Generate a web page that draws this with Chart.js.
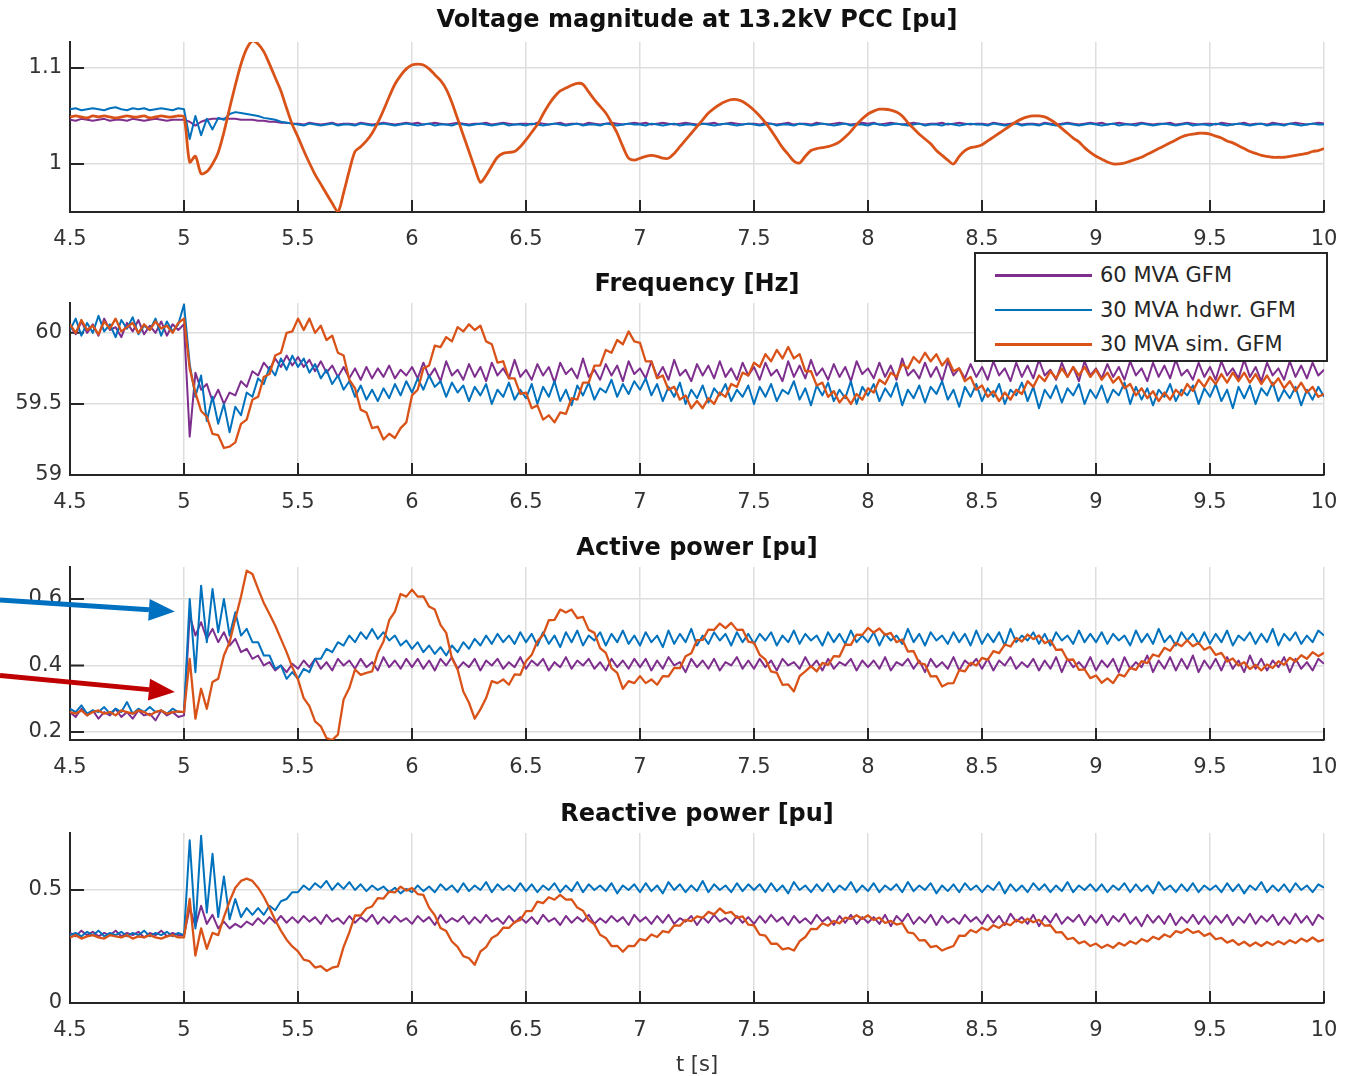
<!DOCTYPE html>
<html lang="en">
<head>
<meta charset="UTF-8">
<title>GFM test: voltage, frequency, active and reactive power</title>
<script src="https://cdn.jsdelivr.net/npm/chart.js"></script>
<style>
    body { margin: 0; background: #ffffff; }
    #wrap { position: relative; width: 1350px; height: 1076px; font-family: 'DejaVu Sans', sans-serif; }
    #wrap canvas { position: absolute; left: 0; }
    #legend {
        position: absolute; left: 974px; top: 252px; width: 354px; height: 110px;
        box-sizing: border-box; border: 2px solid #262626; background: #fff; padding-top: 4px; z-index: 5;
    }
    #legend .row { height: 34.5px; display: flex; align-items: center; }
    #legend .sw { width: 97px; height: 2.5px; margin-left: 19px; margin-right: 8px; }
    #legend .lbl { font-size: 21px; color: #262626; }
</style>
</head>
<body>
<div id="wrap">
    <canvas id="cVolt" width="1350" height="262" style="top:0px"></canvas>
    <canvas id="cFreq" width="1350" height="262" style="top:262px"></canvas>
    <canvas id="cP" width="1350" height="266" style="top:524px"></canvas>
    <canvas id="cQ" width="1350" height="286" style="top:790px"></canvas>
    <div id="legend"></div>
</div>

<script>
// sampling grid of the traces: t = 4.5 s ... 10 s every 25 ms
const T_START = 4.5;
const T_STEP = 0.025;

const seriesNames = ['60 MVA GFM', '30 MVA hdwr. GFM', '30 MVA sim. GFM'];
const xTicks = [4.5, 5, 5.5, 6, 6.5, 7, 7.5, 8, 8.5, 9, 9.5, 10];

// ---- Voltage magnitude at 13.2kV PCC [pu]
const voltTicks = [1, 1.1];
const voltPurple = [
    1.046,1.045,1.047,1.046,1.045,1.046,1.047,1.045,1.046,1.046,1.045,1.047,1.046,1.045,1.046,1.047,1.046,1.045,1.046,1.046,
    1.046,1.044,1.040,1.044,1.046,1.047,1.047,1.047,1.047,1.047,1.046,1.046,1.046,1.045,1.045,1.044,1.044,1.043,1.043,1.042,
    1.042,1.041,1.043,1.042,1.041,1.042,1.043,1.041,1.042,1.042,1.041,1.043,1.042,1.041,1.042,1.043,1.042,1.041,1.042,1.043,
    1.042,1.043,1.041,1.042,1.043,1.042,1.041,1.042,1.043,1.042,1.041,1.042,1.042,1.043,1.041,1.042,1.043,1.042,1.041,1.042,
    1.042,1.041,1.043,1.042,1.041,1.042,1.043,1.041,1.042,1.042,1.041,1.043,1.042,1.041,1.042,1.043,1.042,1.041,1.042,1.043,
    1.042,1.043,1.041,1.042,1.043,1.042,1.041,1.042,1.043,1.042,1.041,1.042,1.042,1.043,1.041,1.042,1.043,1.042,1.041,1.042,
    1.042,1.041,1.043,1.042,1.041,1.042,1.043,1.041,1.042,1.042,1.041,1.043,1.042,1.041,1.042,1.043,1.042,1.041,1.042,1.043,
    1.042,1.043,1.041,1.042,1.043,1.042,1.041,1.042,1.043,1.042,1.041,1.042,1.042,1.043,1.041,1.042,1.043,1.042,1.041,1.042,
    1.042,1.041,1.043,1.042,1.041,1.042,1.043,1.041,1.042,1.042,1.041,1.043,1.042,1.041,1.042,1.043,1.042,1.041,1.042,1.043,
    1.042,1.043,1.041,1.042,1.043,1.042,1.041,1.042,1.043,1.042,1.041,1.042,1.042,1.043,1.041,1.042,1.043,1.042,1.041,1.042,
    1.042,1.041,1.043,1.042,1.041,1.042,1.043,1.041,1.042,1.042,1.041,1.043,1.042,1.041,1.042,1.043,1.042,1.041,1.042,1.043,
    1.042
];
const voltBlue = [
    1.057,1.058,1.056,1.057,1.058,1.057,1.056,1.058,1.059,1.057,1.056,1.058,1.057,1.058,1.056,1.057,1.058,1.057,1.056,1.058,
    1.057,1.026,1.050,1.030,1.047,1.036,1.048,1.046,1.052,1.054,1.053,1.052,1.051,1.050,1.048,1.047,1.046,1.044,1.043,1.042,
    1.041,1.040,1.042,1.041,1.040,1.041,1.042,1.040,1.041,1.041,1.040,1.042,1.041,1.040,1.041,1.042,1.041,1.040,1.041,1.042,
    1.041,1.040,1.041,1.042,1.040,1.041,1.041,1.040,1.042,1.041,1.040,1.041,1.042,1.041,1.040,1.041,1.042,1.040,1.041,1.041,
    1.040,1.042,1.041,1.040,1.041,1.042,1.041,1.040,1.041,1.042,1.040,1.041,1.041,1.040,1.042,1.041,1.040,1.041,1.042,1.041,
    1.041,1.040,1.042,1.041,1.040,1.041,1.042,1.040,1.041,1.041,1.040,1.042,1.041,1.040,1.041,1.042,1.041,1.040,1.041,1.042,
    1.041,1.040,1.041,1.042,1.040,1.041,1.041,1.040,1.042,1.041,1.040,1.041,1.042,1.041,1.040,1.041,1.042,1.040,1.041,1.041,
    1.040,1.042,1.041,1.040,1.041,1.042,1.041,1.040,1.041,1.042,1.040,1.041,1.041,1.040,1.042,1.041,1.040,1.041,1.042,1.041,
    1.041,1.040,1.042,1.041,1.040,1.041,1.042,1.040,1.041,1.041,1.040,1.042,1.041,1.040,1.041,1.042,1.041,1.040,1.041,1.042,
    1.041,1.040,1.041,1.042,1.040,1.041,1.041,1.040,1.042,1.041,1.040,1.041,1.042,1.041,1.040,1.041,1.042,1.040,1.041,1.041,
    1.040,1.042,1.041,1.040,1.041,1.042,1.041,1.040,1.041,1.042,1.040,1.041,1.041,1.040,1.042,1.041,1.040,1.041,1.042,1.041,
    1.041
];
const voltOrange = [
    1.049,1.050,1.049,1.048,1.050,1.049,1.050,1.049,1.048,1.049,1.050,1.049,1.049,1.050,1.048,1.049,1.050,1.049,1.049,1.050,
    1.049,1.002,1.008,0.990,0.992,1.000,1.012,1.033,1.058,1.082,1.104,1.120,1.128,1.125,1.117,1.104,1.090,1.076,1.058,1.041,
    1.028,1.014,1.001,0.989,0.979,0.969,0.959,0.950,0.970,0.993,1.013,1.018,1.024,1.032,1.043,1.056,1.070,1.083,1.092,1.099,
    1.103,1.104,1.103,1.099,1.093,1.087,1.078,1.064,1.047,1.030,1.013,0.996,0.981,0.988,0.998,1.007,1.011,1.012,1.013,1.018,
    1.025,1.033,1.041,1.052,1.062,1.070,1.076,1.079,1.082,1.084,1.083,1.075,1.067,1.060,1.053,1.043,1.032,1.018,1.006,1.004,
    1.006,1.008,1.009,1.008,1.006,1.006,1.011,1.018,1.025,1.032,1.039,1.046,1.053,1.058,1.062,1.065,1.067,1.067,1.065,1.061,
    1.056,1.050,1.043,1.035,1.026,1.017,1.010,1.003,1.001,1.008,1.014,1.016,1.017,1.018,1.020,1.023,1.028,1.034,1.041,1.047,
    1.052,1.055,1.057,1.057,1.056,1.054,1.050,1.043,1.037,1.031,1.026,1.021,1.014,1.009,1.004,1.000,1.008,1.014,1.017,1.018,
    1.020,1.024,1.028,1.032,1.036,1.040,1.044,1.047,1.049,1.050,1.050,1.049,1.046,1.042,1.037,1.032,1.027,1.023,1.017,1.012,
    1.008,1.005,1.002,1.000,1.000,1.001,1.003,1.005,1.007,1.010,1.013,1.016,1.019,1.022,1.025,1.028,1.030,1.031,1.032,1.032,
    1.031,1.029,1.027,1.024,1.022,1.019,1.016,1.013,1.011,1.009,1.008,1.007,1.007,1.007,1.008,1.009,1.010,1.011,1.013,1.014,
    1.016
];

// ---- Frequency [Hz]
const freqTicks = [59, 59.5, 60];
const freqPurple = [
    60.05,59.99,60.08,60.00,60.06,59.98,60.10,60.02,60.04,59.97,60.07,60.01,60.09,59.99,60.05,60.00,60.08,59.98,60.06,60.02,
    60.06,59.27,59.72,59.60,59.64,59.52,59.60,59.50,59.58,59.56,59.66,59.62,59.73,59.70,59.79,59.74,59.82,59.76,59.84,59.77,
    59.83,59.76,59.81,59.73,59.80,59.72,59.77,59.69,59.76,59.68,59.75,59.67,59.76,59.68,59.75,59.69,59.77,59.68,59.74,59.70,
    59.76,59.68,59.79,59.69,59.75,59.66,59.80,59.70,59.74,59.67,59.78,59.69,59.76,59.66,59.79,59.70,59.75,59.68,59.81,59.69,
    59.74,59.67,59.78,59.70,59.76,59.65,59.79,59.71,59.75,59.68,59.82,59.69,59.74,59.67,59.78,59.70,59.77,59.66,59.80,59.71,
    59.75,59.68,59.80,59.69,59.76,59.67,59.81,59.70,59.74,59.66,59.78,59.70,59.77,59.68,59.80,59.69,59.75,59.67,59.79,59.70,
    59.76,59.67,59.79,59.70,59.74,59.66,59.80,59.69,59.77,59.68,59.81,59.70,59.75,59.67,59.78,59.69,59.76,59.66,59.80,59.71,
    59.75,59.68,59.79,59.69,59.77,59.67,59.82,59.70,59.74,59.68,59.79,59.69,59.76,59.66,59.80,59.70,59.75,59.68,59.78,59.69,
    59.76,59.67,59.80,59.70,59.75,59.66,59.79,59.69,59.77,59.68,59.81,59.70,59.74,59.67,59.79,59.69,59.76,59.66,59.80,59.70,
    59.75,59.68,59.78,59.69,59.76,59.67,59.80,59.70,59.75,59.66,59.79,59.69,59.77,59.68,59.81,59.70,59.74,59.67,59.79,59.69,
    59.76,59.67,59.80,59.70,59.75,59.68,59.81,59.69,59.76,59.66,59.79,59.70,59.75,59.67,59.80,59.69,59.77,59.68,59.79,59.70,
    59.74
];
const freqBlue = [
    60.02,60.10,59.98,60.07,60.00,60.12,60.01,60.06,59.97,60.09,60.03,60.11,59.99,60.05,60.02,60.10,59.98,60.08,60.01,60.06,
    60.20,59.78,59.55,59.70,59.38,59.55,59.36,59.50,59.30,59.48,59.42,59.58,59.55,59.68,59.64,59.76,59.70,59.82,59.74,59.84,
    59.76,59.82,59.72,59.78,59.68,59.74,59.64,59.70,59.60,59.66,59.55,59.63,59.53,59.60,59.52,59.61,59.54,59.64,59.56,59.66,
    59.58,59.68,59.60,59.70,59.62,59.66,59.55,59.65,59.58,59.63,59.52,59.62,59.56,59.64,59.50,59.60,59.55,59.65,59.53,59.60,
    59.54,59.64,59.50,59.62,59.55,59.66,59.52,59.60,59.49,59.63,59.56,59.65,59.53,59.61,59.58,59.67,59.55,59.64,59.57,59.66,
    59.60,59.68,59.56,59.64,59.52,59.62,59.55,59.65,59.50,59.60,59.54,59.63,59.51,59.61,59.56,59.64,59.52,59.60,59.55,59.63,
    59.50,59.62,59.55,59.64,59.52,59.60,59.57,59.66,59.53,59.61,59.49,59.63,59.56,59.65,59.52,59.60,59.54,59.66,59.50,59.62,
    59.56,59.64,59.52,59.61,59.55,59.65,59.49,59.60,59.54,59.63,59.51,59.62,59.57,59.66,59.53,59.60,59.48,59.62,59.55,59.64,
    59.52,59.61,59.55,59.64,59.50,59.60,59.56,59.65,59.52,59.62,59.47,59.60,59.54,59.63,59.51,59.61,59.56,59.64,59.50,59.60,
    59.54,59.63,59.51,59.60,59.56,59.65,59.50,59.62,59.53,59.61,59.49,59.60,59.55,59.64,59.52,59.60,59.56,59.63,59.50,59.61,
    59.55,59.64,59.52,59.60,59.47,59.62,59.54,59.63,59.50,59.61,59.56,59.65,59.52,59.60,59.54,59.62,59.49,59.60,59.53,59.62,
    59.55
];
const freqOrange = [
    60.06,60.00,60.09,60.02,60.05,59.99,60.08,60.03,60.10,60.01,60.04,60.07,60.00,60.06,60.02,60.08,60.03,60.05,60.00,60.07,
    60.10,59.75,59.58,59.45,59.41,59.29,59.28,59.19,59.20,59.23,59.36,59.39,59.53,59.55,59.69,59.71,59.84,59.86,60.00,60.01,
    60.10,60.02,60.10,60.00,60.05,59.95,59.98,59.86,59.84,59.67,59.61,59.46,59.44,59.33,59.34,59.25,59.29,59.26,59.33,59.37,
    59.56,59.60,59.75,59.77,59.91,59.90,59.97,59.94,60.04,60.01,60.06,60.02,60.05,59.94,59.92,59.79,59.80,59.68,59.68,59.57,
    59.58,59.47,59.49,59.39,59.42,59.37,59.44,59.43,59.54,59.53,59.65,59.65,59.77,59.77,59.88,59.86,59.95,59.92,60.01,59.94,
    59.93,59.80,59.80,59.68,59.70,59.60,59.62,59.53,59.56,59.47,59.52,59.47,59.54,59.50,59.58,59.55,59.64,59.62,59.72,59.70,
    59.79,59.76,59.85,59.80,59.88,59.82,59.90,59.82,59.85,59.73,59.73,59.63,59.65,59.55,59.59,59.51,59.56,59.50,59.57,59.53,
    59.61,59.58,59.67,59.64,59.72,59.69,59.78,59.75,59.83,59.79,59.86,59.80,59.85,59.77,59.82,59.73,59.75,59.66,59.69,59.60,
    59.63,59.55,59.59,59.52,59.58,59.53,59.60,59.57,59.66,59.62,59.70,59.66,59.73,59.68,59.75,59.69,59.76,59.70,59.76,59.69,
    59.74,59.67,59.72,59.65,59.69,59.61,59.64,59.56,59.61,59.54,59.59,59.52,59.58,59.53,59.60,59.56,59.64,59.59,59.67,59.62,
    59.69,59.64,59.71,59.65,59.72,59.66,59.72,59.65,59.71,59.64,59.70,59.63,59.68,59.61,59.66,59.59,59.65,59.58,59.62,59.55,
    59.57
];

// ---- Active power [pu]
const pTicks = [0.2, 0.4, 0.6];
const pPurple = [
    0.26,0.245,0.27,0.25,0.265,0.24,0.26,0.25,0.27,0.245,0.26,0.24,0.265,0.25,0.255,0.235,0.265,0.25,0.26,0.245,
    0.25,0.55,0.49,0.53,0.48,0.51,0.47,0.5,0.46,0.48,0.44,0.45,0.42,0.43,0.4,0.41,0.385,0.4,0.38,0.405,
    0.39,0.415,0.395,0.42,0.39,0.41,0.385,0.42,0.4,0.415,0.39,0.42,0.395,0.41,0.385,0.425,0.395,0.415,0.39,0.42,
    0.395,0.42,0.39,0.415,0.385,0.42,0.4,0.425,0.39,0.41,0.395,0.42,0.385,0.415,0.4,0.42,0.39,0.41,0.395,0.425,
    0.39,0.415,0.4,0.42,0.385,0.41,0.395,0.425,0.39,0.415,0.4,0.42,0.39,0.41,0.385,0.42,0.395,0.415,0.39,0.42,
    0.395,0.42,0.385,0.415,0.39,0.425,0.4,0.41,0.38,0.42,0.395,0.415,0.39,0.42,0.385,0.41,0.4,0.425,0.39,0.415,
    0.39,0.42,0.395,0.415,0.385,0.42,0.4,0.41,0.39,0.425,0.395,0.415,0.385,0.42,0.39,0.41,0.4,0.42,0.385,0.415,
    0.395,0.415,0.39,0.425,0.385,0.41,0.4,0.42,0.39,0.415,0.38,0.42,0.395,0.41,0.39,0.425,0.385,0.415,0.4,0.42,
    0.39,0.42,0.385,0.415,0.4,0.425,0.39,0.41,0.395,0.42,0.385,0.415,0.39,0.425,0.38,0.42,0.395,0.41,0.39,0.425,
    0.385,0.415,0.395,0.42,0.38,0.425,0.39,0.41,0.395,0.43,0.38,0.415,0.39,0.425,0.385,0.42,0.39,0.43,0.38,0.415,
    0.39,0.42,0.385,0.425,0.39,0.415,0.38,0.43,0.39,0.42,0.385,0.415,0.395,0.425,0.38,0.42,0.39,0.41,0.385,0.42,
    0.405
];
const pBlue = [
    0.27,0.26,0.28,0.255,0.265,0.26,0.275,0.255,0.27,0.26,0.29,0.255,0.27,0.26,0.275,0.26,0.265,0.255,0.27,0.26,
    0.26,0.6,0.38,0.64,0.47,0.63,0.5,0.6,0.49,0.56,0.49,0.51,0.47,0.47,0.43,0.43,0.39,0.4,0.36,0.38,
    0.36,0.39,0.38,0.42,0.42,0.45,0.44,0.47,0.46,0.49,0.47,0.5,0.48,0.51,0.48,0.5,0.475,0.49,0.46,0.475,
    0.45,0.47,0.44,0.46,0.435,0.455,0.43,0.46,0.44,0.47,0.45,0.48,0.46,0.49,0.465,0.495,0.47,0.49,0.465,0.5,
    0.47,0.495,0.46,0.5,0.465,0.49,0.455,0.5,0.47,0.505,0.46,0.49,0.475,0.5,0.46,0.495,0.47,0.505,0.465,0.49,
    0.46,0.5,0.47,0.49,0.455,0.505,0.465,0.495,0.47,0.51,0.46,0.49,0.465,0.5,0.475,0.495,0.46,0.5,0.47,0.495,
    0.465,0.495,0.475,0.5,0.46,0.49,0.47,0.505,0.465,0.495,0.475,0.49,0.46,0.5,0.47,0.495,0.465,0.505,0.47,0.49,
    0.47,0.5,0.46,0.495,0.475,0.49,0.465,0.51,0.47,0.495,0.46,0.5,0.475,0.49,0.465,0.5,0.47,0.495,0.46,0.505,
    0.465,0.495,0.47,0.5,0.46,0.51,0.47,0.49,0.475,0.5,0.465,0.495,0.46,0.5,0.475,0.49,0.465,0.505,0.47,0.495,
    0.47,0.5,0.465,0.495,0.475,0.49,0.46,0.505,0.47,0.495,0.465,0.51,0.47,0.49,0.46,0.5,0.475,0.495,0.465,0.5,
    0.465,0.495,0.47,0.505,0.46,0.49,0.475,0.5,0.465,0.495,0.47,0.51,0.46,0.495,0.475,0.5,0.465,0.49,0.47,0.505,
    0.49
];
const pOrange = [
    0.26,0.255,0.265,0.25,0.26,0.265,0.255,0.26,0.25,0.265,0.26,0.255,0.265,0.26,0.25,0.26,0.265,0.255,0.26,0.262,
    0.26,0.42,0.24,0.33,0.27,0.35,0.36,0.43,0.47,0.54,0.607,0.685,0.675,0.63,0.588,0.555,0.52,0.48,0.44,0.395,
    0.358,0.302,0.278,0.232,0.217,0.182,0.176,0.192,0.298,0.332,0.388,0.372,0.378,0.382,0.438,0.472,0.536,0.562,0.615,0.607,
    0.628,0.607,0.608,0.577,0.568,0.522,0.498,0.422,0.388,0.322,0.288,0.24,0.268,0.302,0.353,0.347,0.358,0.342,0.373,0.372,
    0.413,0.432,0.473,0.492,0.536,0.537,0.568,0.559,0.568,0.542,0.546,0.507,0.498,0.452,0.438,0.392,0.378,0.33,0.353,0.347,
    0.368,0.347,0.358,0.342,0.368,0.367,0.393,0.392,0.428,0.437,0.476,0.477,0.508,0.507,0.526,0.512,0.528,0.507,0.508,0.472,
    0.468,0.432,0.418,0.382,0.378,0.342,0.343,0.322,0.368,0.382,0.398,0.382,0.408,0.402,0.428,0.427,0.463,0.462,0.493,0.492,
    0.513,0.499,0.511,0.492,0.498,0.47,0.478,0.442,0.443,0.407,0.403,0.367,0.368,0.337,0.346,0.347,0.386,0.382,0.408,0.4,
    0.423,0.417,0.443,0.437,0.463,0.457,0.483,0.472,0.493,0.479,0.49,0.467,0.476,0.447,0.448,0.417,0.418,0.387,0.388,0.362,
    0.37,0.348,0.361,0.347,0.373,0.367,0.393,0.387,0.413,0.407,0.433,0.427,0.453,0.444,0.468,0.458,0.476,0.458,0.468,0.447,
    0.456,0.432,0.438,0.412,0.421,0.4,0.41,0.389,0.402,0.385,0.403,0.392,0.413,0.402,0.423,0.412,0.431,0.42,0.44,0.428,
    0.438
];

// ---- Reactive power [pu]
const qTicks = [0, 0.5];
const qPurple = [
    0.31,0.295,0.32,0.3,0.315,0.295,0.31,0.3,0.32,0.295,0.31,0.3,0.315,0.29,0.31,0.3,0.32,0.295,0.31,0.3,
    0.3,0.42,0.34,0.43,0.35,0.39,0.33,0.36,0.33,0.35,0.335,0.36,0.345,0.375,0.35,0.38,0.355,0.385,0.355,0.38,
    0.355,0.385,0.36,0.38,0.35,0.39,0.36,0.375,0.35,0.385,0.355,0.38,0.36,0.39,0.35,0.38,0.355,0.385,0.36,0.375,
    0.35,0.385,0.36,0.38,0.345,0.39,0.355,0.375,0.36,0.385,0.35,0.38,0.355,0.39,0.36,0.375,0.35,0.385,0.355,0.38,
    0.355,0.38,0.35,0.39,0.36,0.375,0.345,0.385,0.355,0.38,0.36,0.39,0.35,0.375,0.355,0.385,0.36,0.38,0.345,0.39,
    0.36,0.38,0.35,0.385,0.355,0.39,0.35,0.375,0.36,0.385,0.345,0.38,0.355,0.39,0.36,0.375,0.35,0.385,0.355,0.38,
    0.35,0.385,0.355,0.39,0.36,0.38,0.345,0.385,0.355,0.375,0.35,0.39,0.36,0.38,0.345,0.385,0.355,0.39,0.35,0.38,
    0.355,0.38,0.35,0.39,0.34,0.385,0.36,0.395,0.35,0.38,0.355,0.39,0.345,0.385,0.355,0.375,0.35,0.39,0.36,0.38,
    0.35,0.39,0.355,0.385,0.345,0.395,0.36,0.38,0.35,0.39,0.34,0.385,0.355,0.395,0.35,0.38,0.36,0.39,0.345,0.385,
    0.355,0.39,0.345,0.385,0.36,0.395,0.35,0.38,0.34,0.39,0.355,0.385,0.35,0.395,0.345,0.38,0.355,0.39,0.35,0.385,
    0.35,0.385,0.355,0.39,0.345,0.38,0.355,0.395,0.35,0.385,0.36,0.39,0.345,0.38,0.35,0.395,0.355,0.385,0.345,0.39,
    0.37
];
const qBlue = [
    0.3,0.31,0.295,0.315,0.3,0.32,0.295,0.31,0.3,0.315,0.295,0.31,0.3,0.32,0.295,0.31,0.3,0.315,0.295,0.31,
    0.3,0.72,0.33,0.74,0.4,0.66,0.38,0.56,0.37,0.46,0.38,0.42,0.39,0.42,0.39,0.43,0.41,0.45,0.46,0.49,
    0.49,0.52,0.5,0.53,0.51,0.54,0.5,0.53,0.505,0.535,0.5,0.525,0.495,0.52,0.5,0.515,0.49,0.51,0.485,0.505,
    0.49,0.52,0.495,0.515,0.49,0.525,0.5,0.52,0.49,0.53,0.495,0.52,0.5,0.535,0.49,0.525,0.5,0.52,0.495,0.53,
    0.495,0.525,0.49,0.52,0.5,0.53,0.49,0.52,0.495,0.535,0.49,0.525,0.5,0.52,0.495,0.53,0.485,0.52,0.5,0.525,
    0.49,0.53,0.495,0.52,0.485,0.535,0.5,0.525,0.49,0.52,0.495,0.54,0.49,0.525,0.5,0.52,0.49,0.53,0.495,0.525,
    0.5,0.525,0.49,0.53,0.495,0.52,0.485,0.535,0.5,0.52,0.49,0.525,0.495,0.53,0.49,0.52,0.5,0.535,0.49,0.52,
    0.495,0.53,0.49,0.52,0.5,0.525,0.49,0.535,0.495,0.52,0.5,0.53,0.485,0.52,0.495,0.525,0.49,0.53,0.5,0.52,
    0.49,0.52,0.5,0.535,0.485,0.525,0.495,0.52,0.49,0.53,0.5,0.525,0.49,0.52,0.495,0.535,0.49,0.52,0.5,0.525,
    0.495,0.525,0.49,0.52,0.5,0.53,0.49,0.525,0.495,0.52,0.485,0.535,0.5,0.52,0.49,0.525,0.495,0.53,0.49,0.52,
    0.5,0.52,0.49,0.53,0.495,0.525,0.485,0.52,0.5,0.535,0.49,0.52,0.495,0.525,0.49,0.53,0.5,0.52,0.49,0.525,
    0.51
];
const qOrange = [
    0.29,0.3,0.285,0.295,0.3,0.29,0.285,0.3,0.295,0.29,0.3,0.285,0.295,0.29,0.3,0.29,0.285,0.295,0.3,0.29,
    0.29,0.46,0.21,0.33,0.24,0.31,0.3,0.38,0.45,0.51,0.54,0.55,0.54,0.51,0.47,0.42,0.367,0.32,0.28,0.25,
    0.228,0.192,0.185,0.157,0.163,0.142,0.156,0.162,0.248,0.312,0.388,0.387,0.418,0.427,0.464,0.462,0.493,0.489,0.515,0.497,
    0.508,0.482,0.478,0.422,0.388,0.332,0.318,0.272,0.248,0.207,0.198,0.169,0.228,0.247,0.288,0.302,0.333,0.332,0.358,0.367,
    0.406,0.407,0.448,0.442,0.468,0.457,0.478,0.457,0.458,0.422,0.408,0.367,0.348,0.302,0.288,0.252,0.253,0.227,0.253,0.252,
    0.283,0.277,0.303,0.292,0.318,0.312,0.343,0.342,0.368,0.362,0.383,0.377,0.403,0.392,0.418,0.397,0.403,0.377,0.383,0.347,
    0.343,0.302,0.298,0.262,0.263,0.237,0.243,0.232,0.273,0.292,0.328,0.327,0.353,0.342,0.363,0.352,0.378,0.372,0.388,0.372,
    0.388,0.367,0.378,0.354,0.363,0.347,0.353,0.312,0.308,0.277,0.278,0.247,0.253,0.232,0.243,0.252,0.298,0.297,0.323,0.312,
    0.333,0.322,0.344,0.332,0.353,0.344,0.368,0.355,0.373,0.357,0.368,0.342,0.344,0.312,0.313,0.282,0.288,0.264,0.273,0.252,
    0.263,0.244,0.258,0.244,0.266,0.254,0.273,0.262,0.283,0.272,0.293,0.282,0.303,0.292,0.318,0.31,0.328,0.31,0.318,0.297,
    0.308,0.282,0.288,0.267,0.278,0.257,0.271,0.252,0.268,0.252,0.27,0.257,0.273,0.26,0.278,0.265,0.285,0.272,0.29,0.272,
    0.28
];

// annotation arrows in panel 3, in data units (t, pu)
const arrowBlue = { from: [4.193, 0.597], to: [4.96, 0.562] };
const arrowRed = { from: [4.193, 0.37], to: [4.96, 0.32] };

// ------------------------------------------------------------------
const COL_PURPLE = '#7E2F8E';
const COL_BLUE = '#0072BD';
const COL_ORANGE = '#D95319';

Chart.defaults.font.family = "'DejaVu Sans', sans-serif";
Chart.defaults.color = '#333';

function toPoints(vals) {
    return vals.map((v, i) => ({ x: Math.round((T_START + i * T_STEP) * 1000) / 1000, y: v }));
}

// MATLAB style ticks pointing into the axes
const innerTicks = {
    id: 'innerTicks',
    beforeDatasetsDraw(chart) {
        const { ctx, chartArea: a, scales: { x, y } } = chart;
        ctx.save();
        ctx.strokeStyle = '#262626';
        ctx.lineWidth = 2;
        ctx.beginPath();
        x.ticks.forEach(t => {
            const px = x.getPixelForValue(t.value);
            ctx.moveTo(px, a.bottom);
            ctx.lineTo(px, a.bottom - 12);
        });
        y.ticks.forEach(t => {
            const py = y.getPixelForValue(t.value);
            ctx.moveTo(a.left, py);
            ctx.lineTo(a.left + 14, py);
        });
        ctx.stroke();
        ctx.restore();
    }
};

function drawArrow(ctx, x0, y0, x1, y1, color) {
    const ang = Math.atan2(y1 - y0, x1 - x0);
    const headLen = 26, headHalf = 11;
    const bx = x1 - headLen * Math.cos(ang), by = y1 - headLen * Math.sin(ang);
    ctx.save();
    ctx.strokeStyle = color;
    ctx.fillStyle = color;
    ctx.lineWidth = 5;
    ctx.beginPath();
    ctx.moveTo(x0, y0);
    ctx.lineTo(bx, by);
    ctx.stroke();
    ctx.beginPath();
    ctx.moveTo(x1, y1);
    ctx.lineTo(bx + headHalf * Math.sin(ang), by - headHalf * Math.cos(ang));
    ctx.lineTo(bx - headHalf * Math.sin(ang), by + headHalf * Math.cos(ang));
    ctx.closePath();
    ctx.fill();
    ctx.restore();
}

const arrowsPlugin = {
    id: 'arrows',
    afterDraw(chart) {
        const { ctx, scales: { x, y } } = chart;
        [[arrowBlue, '#0070C0'], [arrowRed, '#C00000']].forEach(([a, c]) => {
            drawArrow(ctx,
                x.getPixelForValue(a.from[0]), y.getPixelForValue(a.from[1]),
                x.getPixelForValue(a.to[0]), y.getPixelForValue(a.to[1]), c);
        });
    }
};

function makePanel(id, cfg) {
    const orangeWidth = cfg.orangeWidth || 2.3;
    return new Chart(document.getElementById(id), {
        type: 'line',
        data: {
            // first dataset is painted last, so the simulated trace lies on top
            datasets: [
                { label: seriesNames[2], data: toPoints(cfg.series[2]), borderColor: COL_ORANGE, borderWidth: orangeWidth, tension: cfg.tension || 0 },
                { label: seriesNames[1], data: toPoints(cfg.series[1]), borderColor: COL_BLUE, borderWidth: 2, tension: 0 },
                { label: seriesNames[0], data: toPoints(cfg.series[0]), borderColor: COL_PURPLE, borderWidth: 2, tension: 0 }
            ]
        },
        options: {
            responsive: false,
            animation: false,
            devicePixelRatio: 1,
            layout: { padding: { left: 0, right: 26, top: 0, bottom: 0 } },
            elements: { point: { radius: 0 }, line: { borderJoinStyle: 'round', fill: false } },
            plugins: {
                legend: { display: false },
                tooltip: { enabled: false },
                title: {
                    display: true,
                    fullSize: false,
                    text: cfg.title,
                    color: '#111',
                    font: { size: 24, weight: 'bold', lineHeight: 1.2 },
                    padding: { top: cfg.titleTop, bottom: cfg.titleBottom }
                }
            },
            scales: {
                x: {
                    type: 'linear',
                    min: 4.5,
                    max: 10,
                    afterBuildTicks: s => { s.ticks = xTicks.map(v => ({ value: v })); },
                    afterFit: s => { s.height = cfg.xHeight; s.paddingLeft = 0; s.paddingRight = 0; },
                    ticks: { padding: 15, font: { size: 21 }, color: '#333', maxRotation: 0, autoSkip: false, callback: v => String(v) },
                    grid: { color: '#dedede', lineWidth: 1.5, drawTicks: false },
                    border: { color: '#262626', width: 2 },
                    title: cfg.xTitle
                        ? { display: true, text: cfg.xTitle, color: '#333', font: { size: 21, lineHeight: 1.2 }, padding: { top: 0, bottom: -2.6 } }
                        : { display: false }
                },
                y: {
                    min: cfg.yMin,
                    max: cfg.yMax,
                    afterBuildTicks: s => { s.ticks = cfg.yTicks.map(v => ({ value: v })); },
                    afterFit: s => { s.width = 70; },
                    ticks: { padding: 8, font: { size: 21 }, color: '#333', callback: v => String(v) },
                    grid: { color: '#dedede', lineWidth: 1.5, drawTicks: false },
                    border: { color: '#262626', width: 2 }
                }
            }
        },
        plugins: cfg.extra ? [innerTicks, cfg.extra] : [innerTicks]
    });
}

makePanel('cVolt', {
    title: 'Voltage magnitude at 13.2kV PCC [pu]',
    series: [voltPurple, voltBlue, voltOrange],
    yMin: 0.95, yMax: 1.127, yTicks: voltTicks,
    titleTop: 6.6, titleBottom: 6.6, xHeight: 50, orangeWidth: 2.8, tension: 0.3
});
makePanel('cFreq', {
    title: 'Frequency [Hz]',
    series: [freqPurple, freqBlue, freqOrange],
    yMin: 59, yMax: 60.21, yTicks: freqTicks,
    titleTop: 8.6, titleBottom: 3.6, xHeight: 49
});
makePanel('cP', {
    title: 'Active power [pu]',
    series: [pPurple, pBlue, pOrange],
    yMin: 0.176, yMax: 0.696, yTicks: pTicks,
    titleTop: 10.6, titleBottom: 3.6, xHeight: 50, extra: arrowsPlugin
});
makePanel('cQ', {
    title: 'Reactive power [pu]',
    series: [qPurple, qBlue, qOrange],
    yMin: 0, yMax: 0.752, yTicks: qTicks,
    titleTop: 10.6, titleBottom: 3.6, xHeight: 73, xTitle: 't [s]'
});

// legend box (drawn over the frequency panel like the original)
const legendColors = [COL_PURPLE, COL_BLUE, COL_ORANGE];
const legendEl = document.getElementById('legend');
seriesNames.forEach((name, i) => {
    const row = document.createElement('div');
    row.className = 'row';
    row.innerHTML = '<span class="sw" style="background:' + legendColors[i] + '"></span><span class="lbl">' + name + '</span>';
    legendEl.appendChild(row);
});
</script>
</body>
</html>
